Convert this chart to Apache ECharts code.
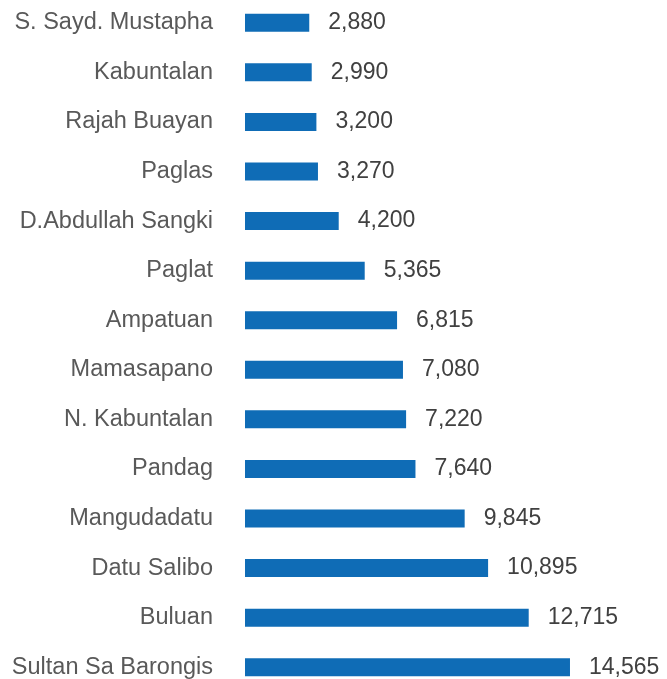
<!DOCTYPE html>
<html>
<head>
<meta charset="UTF-8">
<title>Bar chart</title>
<script src="https://cdn.jsdelivr.net/npm/echarts@6.0.0/dist/echarts.min.js"></script>
<style>
  html, body { margin: 0; padding: 0; background: #fff; }
  #chart { width: 667px; height: 679px; }
</style>
</head>
<body>
<div id="chart"></div>
<script>
// data, top to bottom
const municipalities = [
  'S. Sayd. Mustapha', 'Kabuntalan', 'Rajah Buayan', 'Paglas',
  'D.Abdullah Sangki', 'Paglat', 'Ampatuan', 'Mamasapano',
  'N. Kabuntalan', 'Pandag', 'Mangudadatu', 'Datu Salibo',
  'Buluan', 'Sultan Sa Barongis'
];
const counts = [2880, 2990, 3200, 3270, 4200, 5365, 6815, 7080, 7220, 7640, 9845, 10895, 12715, 14565];

const chart = echarts.init(document.getElementById('chart'));
chart.setOption({
  animation: false,
  grid: {
    left: 245, top: -2, width: 357, height: 694,
    containLabel: false, outerBoundsMode: 'none'
  },
  xAxis: {
    type: 'value', min: 0, max: 16000, show: false
  },
  yAxis: {
    type: 'category',
    inverse: true,
    data: municipalities,
    axisLine: { show: false },
    axisTick: { show: false },
    axisLabel: {
      margin: 32,
      fontSize: 23.5,
      color: '#595959',
      fontFamily: 'Liberation Sans, Arial, sans-serif'
    }
  },
  series: [{
    type: 'bar',
    data: counts,
    barWidth: 18,
    itemStyle: { color: '#0F6CB6' },
    label: {
      show: true,
      position: 'right',
      distance: 19,
      fontSize: 23,
      color: '#404040',
      fontFamily: 'Liberation Sans, Arial, sans-serif',
      formatter: p => p.value.toLocaleString('en-US')
    }
  }]
});
</script>
</body>
</html>
